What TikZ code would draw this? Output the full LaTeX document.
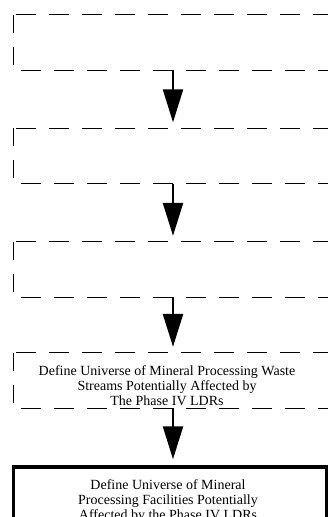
\documentclass[tikz,border=0pt]{standalone}
\usepackage{fontspec}
\setmainfont{Liberation Serif}
\usetikzlibrary{arrows.meta}

\tikzset{
  stagebox/.style={minimum width=314pt, minimum height=55pt, inner sep=0pt},
  stageline/.style={draw=black, line width=1pt, dash pattern=on 20pt off 13pt},
  finalbox/.style={draw=black, line width=3.5pt,
    minimum width=313pt, minimum height=62pt, inner sep=0pt},
  boxtext/.style={align=center, inner sep=0pt,
    font=\fontsize{14}{15}\selectfont},
  flowarrow/.style={line width=2.5pt,
    -{Triangle[length=33pt,width=20pt]}, shorten >=6pt}
}

% dashed outline of a stage box, one side at a time
\newcommand\stageborder[1]{%
  \draw[stageline, shorten <=2pt] (#1.north west) -- (#1.north east);
  \draw[stageline, dash pattern=on 18pt off 14pt] (#1.north west) -- (#1.south west);
  \draw[stageline, dash phase=26pt] (#1.south west) -- (#1.south east);
  \draw[stageline] (#1.north east) -- (#1.south east);
}

\begin{document}
\begin{tikzpicture}[x=1pt,y=-1pt]
  \useasboundingbox (0,0) rectangle (328,517);
  \clip (0,0) rectangle (328,517);

  % stages of the flow, top to bottom
  \node[stagebox] (s1) at (171,42.5) {};
  \node[stagebox] (s2) at (171,156) {};
  \node[stagebox] (s3) at (171,269.5) {};
  \node[stagebox] (s4) at (171,380.5) {};
  \node[finalbox] (s5) at (170,498) {};
  \stageborder{s1}
  \stageborder{s2}
  \stageborder{s3}
  \stageborder{s4}

  \node[boxtext] (t4) at (167,385.5) {Define Universe of Mineral Processing Waste\\
    Streams Potentially Affected by\\ The Phase IV LDRs};
  \node[boxtext] (t5) at (168,501) {Define Universe of Mineral\\
    Processing Facilities Potentially\\ Affected by the Phase IV LDRs};

  % arrows run down a common vertical line
  \coordinate (ax) at (173,0);
  \draw[flowarrow] (s1.south -| ax) -- (s2.north -| ax);
  \draw[flowarrow] (s2.south -| ax) -- (s3.north -| ax);
  \draw[flowarrow] (s3.south -| ax) -- (s4.north -| ax);
  \draw[flowarrow] (s4.south -| ax) -- (s5.north -| ax);
\end{tikzpicture}
\end{document}
